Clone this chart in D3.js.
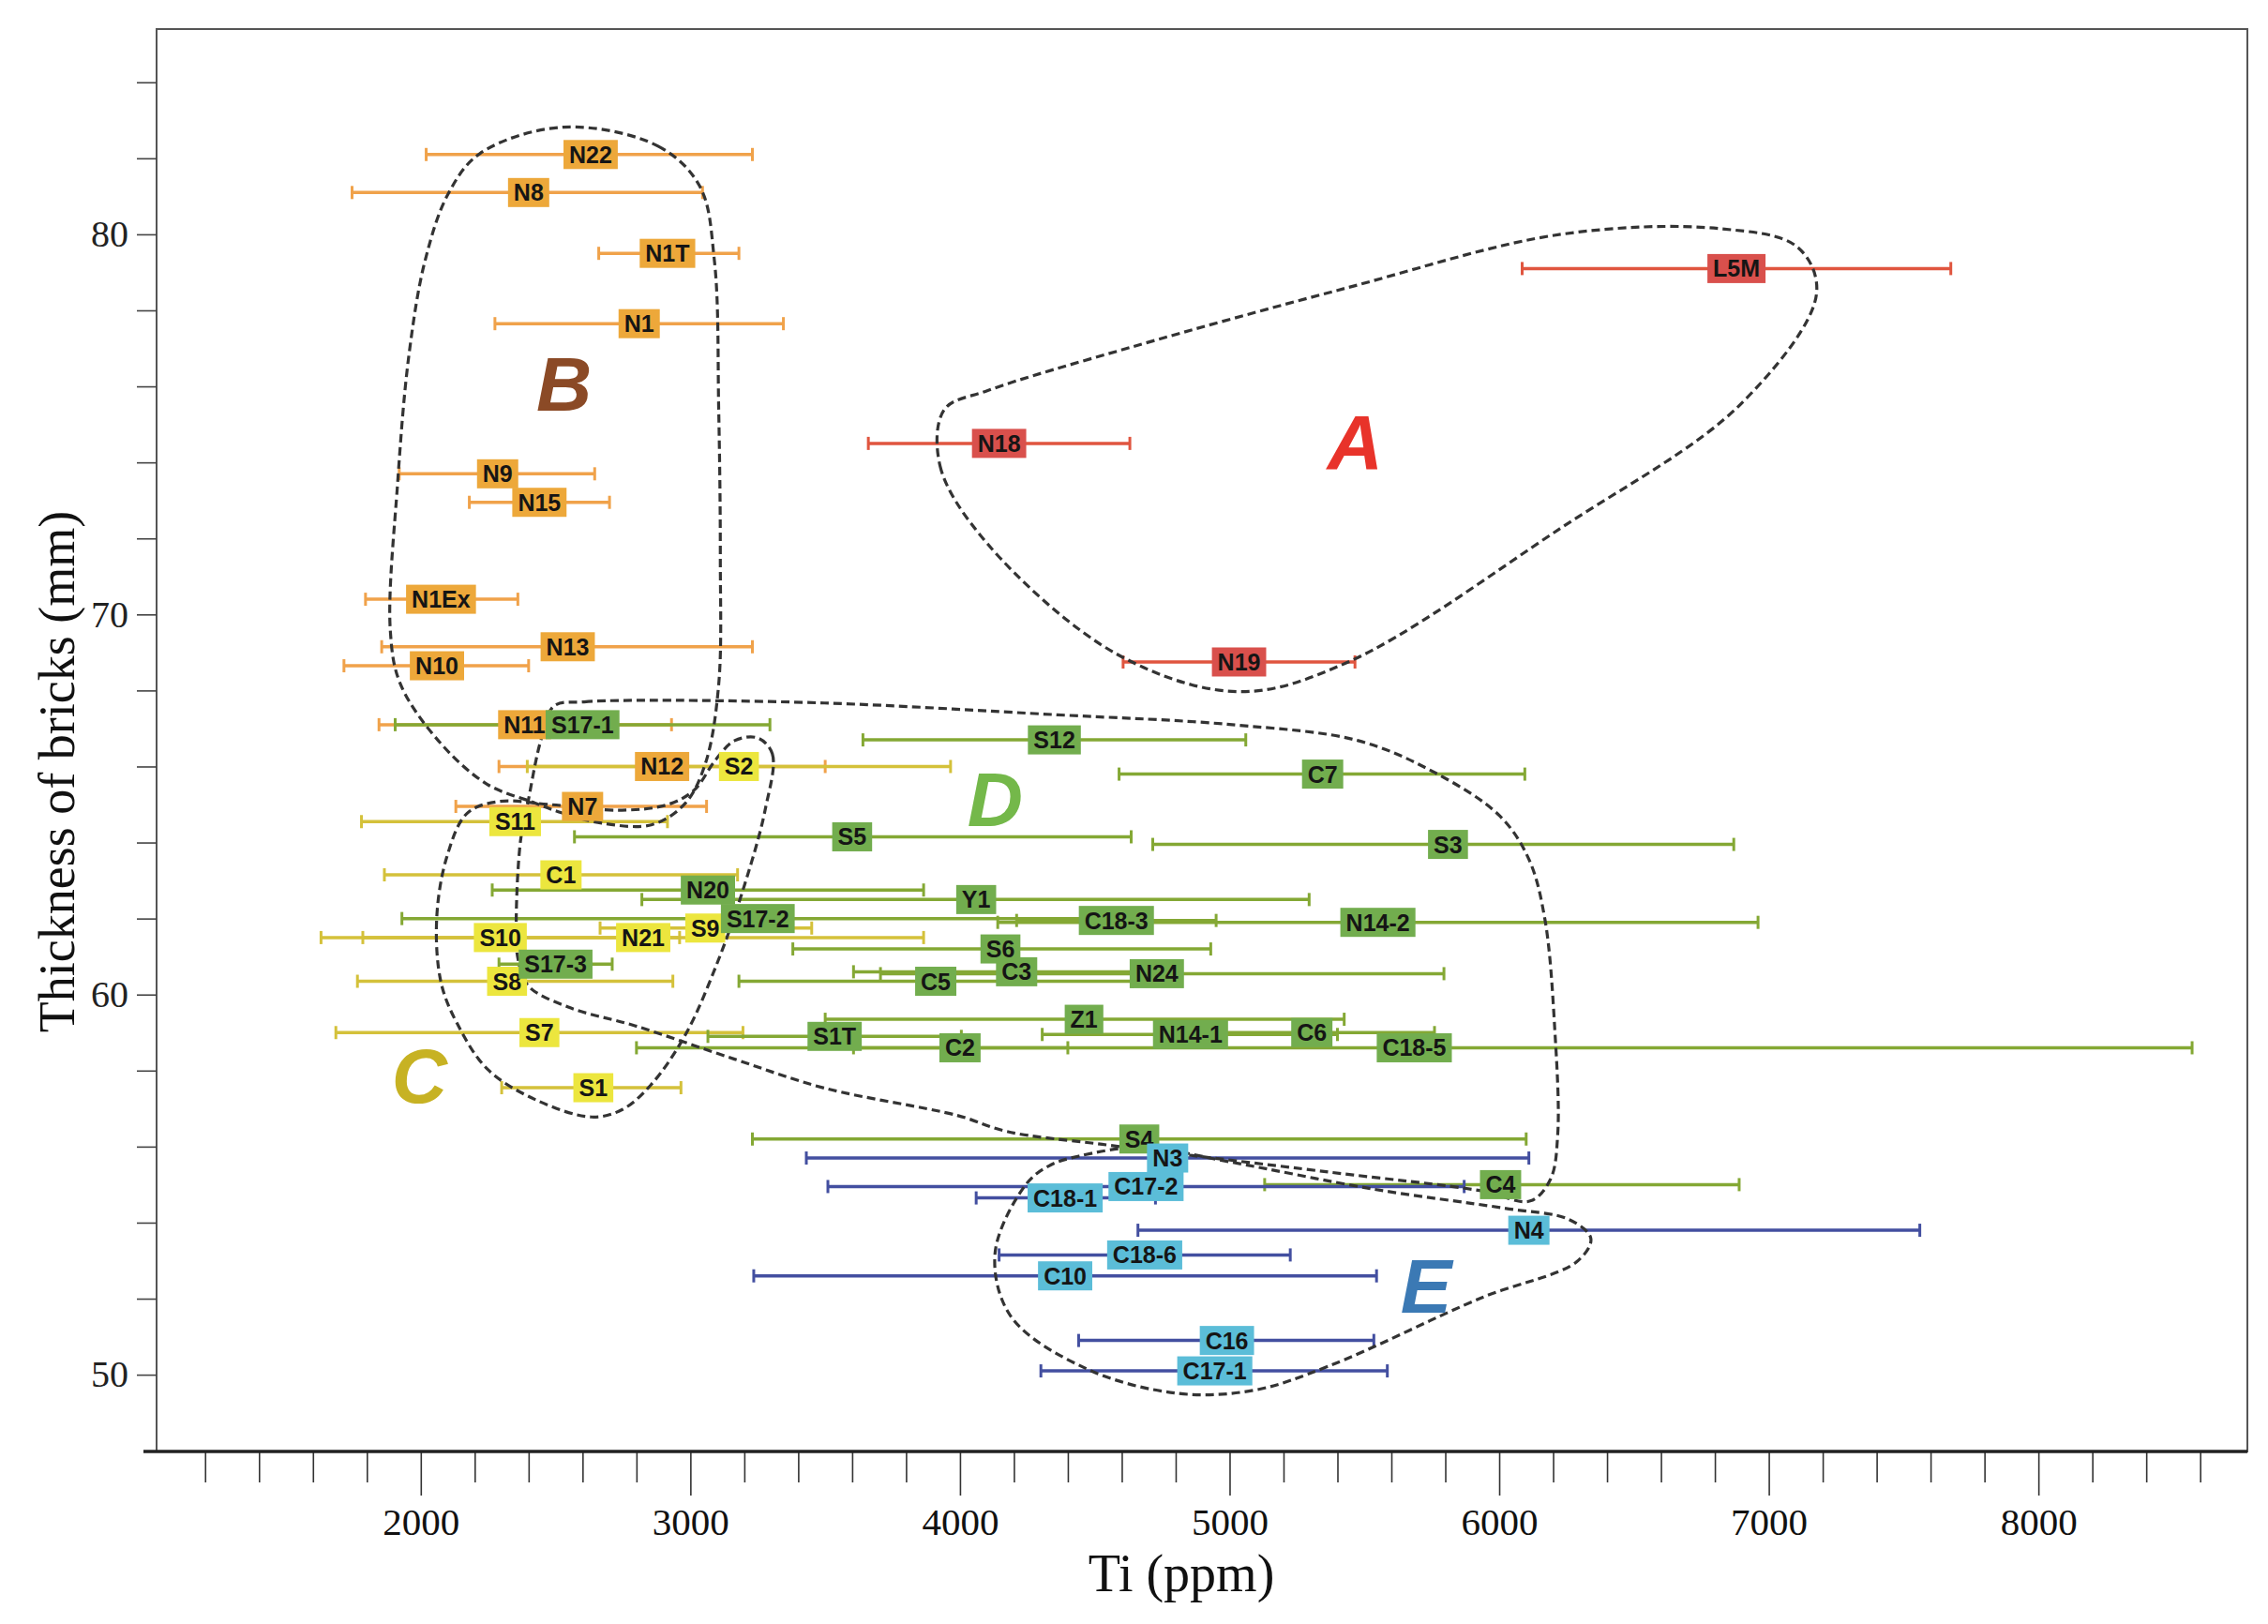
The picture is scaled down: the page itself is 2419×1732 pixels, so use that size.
<!DOCTYPE html>
<html>
<head>
<meta charset="utf-8">
<script src="https://cdnjs.cloudflare.com/ajax/libs/d3/7.8.5/d3.min.js"></script>
<style>
  body { margin: 0; background: #fff; }
  svg { display: block; }
</style>
</head>
<body>
<div id="chart"></div>
<script>
// Samples (group order: B, A, C, D, E)
const labels = [
  'N22', 'N8', 'N1T', 'N1', 'N9', 'N15', 'N1Ex', 'N13', 'N10', 'N11', 'N12', 'N7',
  'L5M', 'N18', 'N19',
  'S2', 'S11', 'C1', 'S10', 'N21', 'S9', 'S8', 'S7', 'S1',
  'S17-1', 'S12', 'C7', 'S5', 'S3', 'N20', 'Y1', 'S17-2', 'C18-3', 'N14-2', 'S6', 'S17-3',
  'C5', 'C3', 'N24', 'Z1', 'S1T', 'N14-1', 'C6', 'C2', 'C18-5', 'S4', 'C4',
  'N3', 'C17-2', 'C18-1', 'N4', 'C18-6', 'C10', 'C16', 'C17-1',
];
const groups = [
  'B', 'B', 'B', 'B', 'B', 'B', 'B', 'B', 'B', 'B', 'B', 'B',
  'A', 'A', 'A',
  'C', 'C', 'C', 'C', 'C', 'C', 'C', 'C', 'C',
  'D', 'D', 'D', 'D', 'D', 'D', 'D', 'D', 'D', 'D', 'D', 'D',
  'D', 'D', 'D', 'D', 'D', 'D', 'D', 'D', 'D', 'D', 'D',
  'E', 'E', 'E', 'E', 'E', 'E', 'E', 'E',
];
// Ti (ppm): mean, lower and upper end of the error bar
const ti = [
  2630, 2400, 2915, 2810, 2285, 2440, 2075, 2545, 2060, 2385, 2895, 2600,
  6880, 4145, 5035,
  3180, 2350, 2520, 2295, 2825, 3055, 2320, 2440, 2640,
  2600, 4350, 5345, 3600, 5810, 3065, 4060, 3250, 4580, 5550, 4150, 2500,
  3910, 4210, 4730, 4460, 3535, 4855, 5305, 4000, 5685, 4665, 6005,
  4770, 4690, 4390, 6110, 4685, 4390, 4990, 4945,
];
const tiMin = [
  2020, 1745, 2660, 2275, 1920, 2180, 1795, 1855, 1715, 1845, 2290, 2130,
  6085, 3660, 4605,
  2395, 1780, 1865, 1630, 1785, 2665, 1765, 1685, 2300,
  1905, 3640, 4590, 2570, 4715, 2265, 2820, 1930, 4210, 4140, 3380, 2290,
  3180, 3605, 3705, 3500, 3065, 4305, 4850, 3605, 2800, 3230, 5130,
  3430, 3510, 4060, 4660, 4145, 3235, 4440, 4300,
];
const tiMax = [
  3230, 3045, 3180, 3345, 2645, 2700, 2360, 3230, 2400, 2930, 3500, 3060,
  7675, 4630, 5465,
  3965, 2915, 3175, 2960, 3865, 3450, 2935, 3195, 2965,
  3295, 5060, 6095, 4635, 6870, 3865, 5295, 4570, 4950, 6960, 4930, 2710,
  4640, 4815, 5795, 5425, 4005, 5400, 5760, 4400, 8570, 6100, 6890,
  6110, 5870, 4725, 7560, 5225, 5545, 5535, 5585,
];
// Thickness of bricks (mm)
const thickness = [
  82.1, 81.1, 79.5, 77.65, 73.7, 72.95, 70.4, 69.15, 68.65, 67.1, 66.0, 64.95,
  79.1, 74.5, 68.75,
  66.0, 64.55, 63.15, 61.5, 61.5, 61.75, 60.35, 59.0, 57.55,
  67.1, 66.7, 65.8, 64.15, 63.95, 62.75, 62.5, 62.0, 61.95, 61.9, 61.2, 60.8,
  60.35, 60.6, 60.55, 59.35, 58.9, 58.95, 59.0, 58.6, 58.6, 56.2, 55.0,
  55.7, 54.95, 54.65, 53.8, 53.15, 52.6, 50.9, 50.1,
];

// Cluster outlines, [Ti, thickness]
const outlineA = [[3942, 75.39], [3926, 73.91], [4103, 71.85], [4581, 68.96], [5031, 67.97], [5434, 68.73], [6228, 72.27], [6898, 75.55], [7177, 78.44], [7107, 79.66], [6818, 80.15], [6228, 80.0], [5434, 78.59], [4634, 77.03], [4103, 75.89]];
const outlineB = [[2531, 82.82], [2880, 82.32], [3035, 81.26], [3089, 79.31], [3105, 75.39], [3111, 71.51], [3105, 68.16], [3057, 66.11], [2982, 65.04], [2858, 64.47], [2671, 64.51], [2510, 64.81], [2424, 65.04], [2247, 65.53], [2075, 66.6], [1925, 68.16], [1887, 69.57], [1914, 73.45], [1957, 76.88], [2016, 79.31], [2102, 81.07], [2220, 82.13]];
const outlineC = [[3250, 66.75], [3304, 66.33], [3277, 64.85], [3202, 62.91], [3105, 60.93], [2982, 58.95], [2853, 57.62], [2746, 56.97], [2633, 56.78], [2424, 57.24], [2247, 58.04], [2134, 59.25], [2075, 60.32], [2059, 62.0], [2097, 63.63], [2172, 64.77], [2290, 65.08], [2477, 65.0], [2746, 64.85], [2917, 65.0], [3014, 65.38], [3094, 66.18], [3164, 66.68]];
const outlineD = [[2494, 67.59], [2606, 67.7], [2794, 67.74], [3497, 67.67], [4361, 67.36], [5010, 67.1], [5477, 66.68], [5761, 65.84], [6002, 64.7], [6110, 63.56], [6169, 62.0], [6206, 59.1], [6217, 56.32], [6190, 55.14], [6115, 54.57], [5933, 54.84], [5369, 55.33], [4527, 56.06], [4173, 56.4], [3990, 56.82], [3497, 57.54], [3164, 58.3], [2794, 59.18], [2547, 59.67], [2397, 60.24], [2359, 61.0], [2354, 62.0], [2370, 64.05], [2397, 65.04], [2445, 66.68]];
const outlineE = [[4441, 55.75], [4677, 55.98], [4999, 55.6], [5535, 54.88], [6018, 54.38], [6260, 54.08], [6340, 53.58], [6287, 52.97], [5933, 52.02], [5369, 50.23], [5090, 49.59], [4806, 49.51], [4468, 50.16], [4189, 51.53], [4130, 53.2], [4243, 54.99], [4329, 55.49]];

// Cluster letters
const clusterNames = ['A', 'B', 'C', 'D', 'E'];
const clusterTi = [5466, 2531, 1995, 4130, 5729];
const clusterThickness = [74.56, 76.08, 57.88, 65.15, 52.36];

const xTicks = d3.range(1200, 8601, 200);
const yTicks = d3.range(50, 85, 2);

const style = {
  A: { box: '#d9504c', line: '#e0553f', letter: '#e8332a' },
  B: { box: '#eda83a', line: '#f0a24a', letter: '#8b4a26' },
  C: { box: '#ece63e', line: '#d4c13a', letter: '#c7b223' },
  D: { box: '#72ad4e', line: '#84a834', letter: '#74b84a' },
  E: { box: '#5bbdd8', line: '#434fa0', letter: '#3b79b4' },
};

const width = 2419;
const height = 1732;
const margin = { top: 31, right: 22, bottom: 184, left: 167 };
const serif = '"Liberation Serif", "Times New Roman", serif';
const sans = '"Liberation Sans", Arial, sans-serif';

const svg = d3.select('#chart')
  .append('svg')
  .attr('width', width)
  .attr('height', height);

const x = d3.scaleLinear().domain([1020, 8775]).range([margin.left, width - margin.right]);
const y = d3.scaleLinear().domain([47.98, 85.4]).range([height - margin.bottom, margin.top]);

// Frame
svg.append('rect')
  .attr('x', margin.left)
  .attr('y', margin.top)
  .attr('width', width - margin.left - margin.right)
  .attr('height', height - margin.top - margin.bottom)
  .attr('fill', '#fff')
  .attr('stroke', '#555')
  .attr('stroke-width', 2);

// X axis
const xAxis = svg.append('g')
  .attr('transform', 'translate(0,' + (height - margin.bottom) + ')')
  .call(d3.axisBottom(x)
    .tickValues(xTicks)
    .tickSize(33)
    .tickPadding(22)
    .tickFormat((d) => (d % 1000 === 0 && d >= 2000 && d <= 8000 ? d : '')));
xAxis.attr('font-family', null);
xAxis.select('.domain').remove();
xAxis.selectAll('.tick line')
  .attr('stroke', '#333')
  .attr('stroke-width', 1.6)
  .attr('y2', (d) => (d % 1000 === 0 ? 47 : 33));
xAxis.selectAll('.tick text')
  .attr('y', 60)
  .style('font-family', serif)
  .style('font-size', '41px')
  .attr('fill', '#111');
svg.append('line')
  .attr('x1', margin.left - 14)
  .attr('x2', width - margin.right)
  .attr('y1', height - margin.bottom)
  .attr('y2', height - margin.bottom)
  .attr('stroke', '#222')
  .attr('stroke-width', 3.5);

// Y axis
const yAxis = svg.append('g')
  .attr('transform', 'translate(' + margin.left + ',0)')
  .call(d3.axisLeft(y)
    .tickValues(yTicks)
    .tickSize(21)
    .tickPadding(9)
    .tickFormat((d) => (d % 10 === 0 ? d : '')));
yAxis.attr('font-family', null);
yAxis.select('.domain').remove();
yAxis.selectAll('.tick line').attr('stroke', '#444').attr('stroke-width', 1.6);
yAxis.selectAll('.tick text')
  .style('font-family', serif)
  .style('font-size', '40px')
  .attr('fill', '#222');

// Axis titles
svg.append('text')
  .attr('x', 1260)
  .attr('y', 1697)
  .attr('text-anchor', 'middle')
  .style('font-family', serif)
  .style('font-size', '56px')
  .attr('fill', '#111')
  .text('Ti (ppm)');
svg.append('text')
  .attr('transform', 'translate(79,823) rotate(-90)')
  .attr('text-anchor', 'middle')
  .style('font-family', serif)
  .style('font-size', '54px')
  .attr('fill', '#111')
  .text('Thickness of bricks (mm)');

const idx = d3.range(labels.length);

// Error bars
const bars = svg.append('g');
idx.forEach((i) => {
  const c = style[groups[i]].line;
  const yy = y(thickness[i]);
  const g = bars.append('g').attr('stroke', c).attr('stroke-width', 3.5);
  g.append('line').attr('x1', x(tiMin[i])).attr('x2', x(tiMax[i])).attr('y1', yy).attr('y2', yy);
  [tiMin[i], tiMax[i]].forEach((v) => {
    g.append('line').attr('x1', x(v)).attr('x2', x(v)).attr('y1', yy - 7).attr('y2', yy + 7).attr('stroke-width', 3);
  });
});

// Dashed cluster outlines
const outline = d3.line()
  .x((d) => x(d[0]))
  .y((d) => y(d[1]))
  .curve(d3.curveCatmullRomClosed.alpha(0.5));
svg.append('g')
  .selectAll('path')
  .data([outlineA, outlineB, outlineC, outlineD, outlineE])
  .enter()
  .append('path')
  .attr('d', outline)
  .attr('fill', 'none')
  .attr('stroke', '#333')
  .attr('stroke-width', 3.2)
  .attr('stroke-dasharray', '9 5');

// Sample labels
const boxes = svg.append('g');
idx.forEach((i) => {
  const g = boxes.append('g').attr('transform', 'translate(' + x(ti[i]) + ',' + y(thickness[i]) + ')');
  const t = g.append('text')
    .attr('text-anchor', 'middle')
    .attr('dy', '0.36em')
    .style('font-family', sans)
    .style('font-weight', 'bold')
    .style('font-size', '25px')
    .attr('fill', '#151515')
    .text(labels[i]);
  const w = t.node().getComputedTextLength() + 12;
  g.insert('rect', 'text')
    .attr('x', -w / 2)
    .attr('y', -15.5)
    .attr('width', w)
    .attr('height', 31)
    .attr('fill', style[groups[i]].box);
});

// Cluster letters
svg.append('g')
  .selectAll('text')
  .data(clusterNames)
  .enter()
  .append('text')
  .attr('x', (d, i) => x(clusterTi[i]))
  .attr('y', (d, i) => y(clusterThickness[i]))
  .attr('dy', '0.36em')
  .attr('text-anchor', 'middle')
  .style('font-family', sans)
  .style('font-weight', 'bold')
  .style('font-style', 'italic')
  .style('font-size', '82px')
  .attr('fill', (d) => style[d].letter)
  .text((d) => d);
</script>
</body>
</html>
